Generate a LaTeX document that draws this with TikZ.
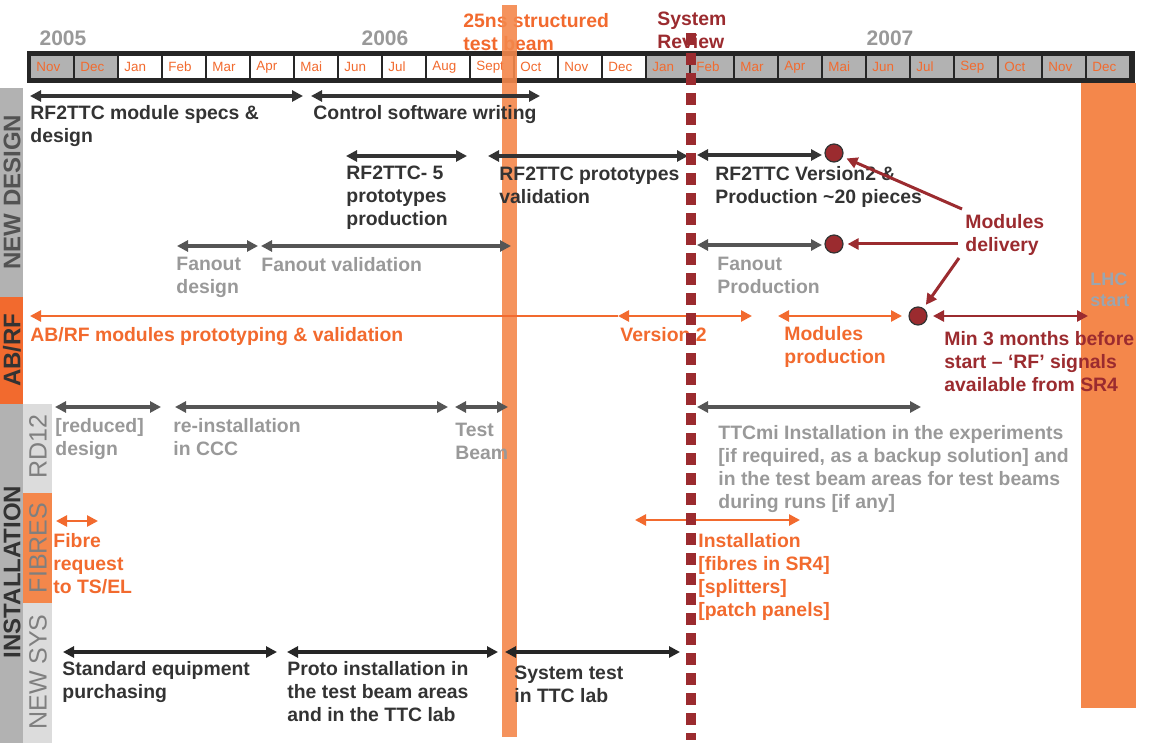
\documentclass[tikz,border=0pt]{standalone}
\usepackage{fontspec}
\setmainfont{Liberation Sans}
\usetikzlibrary{arrows.meta}

\definecolor{darktxt}{HTML}{333333}
\definecolor{greytxt}{HTML}{999999}
\definecolor{greyarr}{HTML}{555555}
\definecolor{sidetxt}{HTML}{7F7F7F}
\definecolor{orangetxt}{HTML}{F26A2E}
\definecolor{orangebar}{HTML}{F4874B}
\definecolor{darkred}{HTML}{9B2B2F}
\definecolor{boxgrey}{HTML}{B2B2B2}
\definecolor{boxlight}{HTML}{DCDCDC}
\definecolor{headblack}{HTML}{262626}
\definecolor{lhcgrey}{HTML}{9AA5B0}

\tikzset{
  lbl/.style={anchor=north west,inner sep=0pt,align=left,text=darktxt,
    font=\fontsize{9.7}{11.5}\selectfont\bfseries},
  greylbl/.style={lbl,text=greytxt},
  orangelbl/.style={lbl,text=orangetxt},
  redlbl/.style={lbl,text=darkred},
  span/.style={{Triangle[length=5.5pt,width=5.5pt]}-{Triangle[length=5.5pt,width=5.5pt]},
    line width=1.8pt,draw=darktxt},
  greyspan/.style={span,draw=greyarr},
  orangespan/.style={span,draw=orangetxt,line width=1.3pt},
  redspan/.style={span,draw=darkred,line width=1.3pt},
  milestone/.style={circle,fill=darkred,draw=darktxt,line width=0.6pt,
    minimum size=9pt,inner sep=0pt},
  deliv/.style={-{Triangle[length=5.5pt,width=5.5pt]},line width=1.5pt,draw=darkred,
    shorten >=2pt},
  month/.style={anchor=west,inner sep=0pt,text=orangetxt,font=\fontsize{6.7}{8}\selectfont},
  year/.style={text=greytxt,font=\fontsize{10.5}{12}\selectfont\bfseries},
  side/.style={rotate=90,inner sep=0pt,font=\fontsize{12}{14}\selectfont\bfseries},
  subside/.style={rotate=90,inner sep=0pt,text=sidetxt,font=\fontsize{12.5}{14}\selectfont},
}

\begin{document}
\begin{tikzpicture}[x=0.5pt,y=-0.5pt]
\useasboundingbox (0,0) rectangle (1151,743);

% left column
\fill[boxgrey] (0,88) rectangle (23,297);
\fill[orangetxt] (0,297) rectangle (23,404);
\fill[boxgrey] (0,404) rectangle (23,743);
\fill[boxlight] (23,404) rectangle (52,493);
\fill[orangebar] (23,493) rectangle (52,603);
\fill[boxlight] (23,603) rectangle (52,743);
\node[side,text=darktxt!85] (newdesign) at (12,192) {NEW DESIGN};
\node[side,text=darktxt] (abrf) at (12,350) {AB/RF};
\node[side,text=darktxt] (install) at (12,572) {INSTALLATION};
\node[subside] (rd12) at (38,447) {RD12};
\node[subside] (fibres) at (38,548) {FIBRES};
\node[subside] (newsys) at (38,672) {NEW SYS};

% time axis
\fill[headblack] (27,51) rectangle (1135,83);
\foreach \m/\c [count=\i from 0] in {Nov/boxgrey,Dec/boxgrey,Jan/white,Feb/white,Mar/white,
    Apr/white,Mai/white,Jun/white,Jul/white,Aug/white,Sept/white,Oct/white,Nov/white,Dec/white,
    Jan/boxgrey,Feb/boxgrey,Mar/boxgrey,Apr/boxgrey,Mai/boxgrey,Jun/boxgrey,Jul/boxgrey,
    Sep/boxgrey,Oct/boxgrey,Nov/boxgrey,Dec/boxgrey}{
  \fill[\c] ({31+44*\i},56) rectangle ({73+44*\i},78);
  \node[month] (m\i) at ({36+44*\i},67) {\m};
}
\node[year] (y2005) at (63,38) {2005};
\node[year] (y2006) at (385,38) {2006};
\node[year] (y2007) at (890,38) {2007};

% milestones
\node[orangelbl] (testbeam) at (463,13) {25ns structured\\test beam};
\node[redlbl] (review) at (657,12) {System\\Review};
\fill[orangebar,opacity=.9] (502,5) rectangle (517,737);
\fill[orangebar] (1081,83) rectangle (1136,708);
\node[lbl,text=lhcgrey,font=\fontsize{9}{10.5}\selectfont\bfseries] (lhc) at (1090,273) {LHC\\start};

% new design
\node[lbl] (specs) at (30,105) {RF2TTC module specs \&\\design};
\node[lbl] (ctrl) at (313,105) {Control software writing};
\node[lbl] (proto5) at (346,166) {RF2TTC- 5\\prototypes\\production};
\node[lbl] (protoval) at (499,167) {RF2TTC prototypes\\validation};
\node[lbl] (version2) at (715,166) {RF2TTC Version2 \&\\Production \textasciitilde20 pieces};
\node[greylbl] (fandes) at (176,257) {Fanout\\design};
\node[greylbl] (fanval) at (261,257) {Fanout validation};
\node[greylbl] (fanprod) at (717,257) {Fanout\\Production};
\draw[span] (30,96) -- (303,96);
\draw[span] (311,96) -- (540,96);
\draw[span] (346,156) -- (467,156);
\draw[span] (488,156) -- (688,156);
\draw[span] (697,155) -- (822,155);
\draw[greyspan] (177,246) -- (258,246);
\draw[greyspan] (261,246) -- (511,246);
\draw[greyspan] (697,245) -- (822,245);
\node[milestone] (dot1) at (834,153) {};
\node[milestone] (dot2) at (834,244) {};

% AB/RF
\node[orangelbl] (abrfval) at (30,327) {AB/RF modules prototyping \& validation};
\node[orangelbl] (abrfv2) at (620,327) {Version 2};
\node[orangelbl] (modprod) at (784,326) {Modules\\production};
\node[redlbl] (min3) at (944,331) {Min 3 months before\\start – ‘RF’ signals\\available from SR4};
\coordinate (abL) at (30,316);
\coordinate (v2L) at (618,316);
\coordinate (v2R) at (752,316);
\draw[orangespan,{Triangle[length=5.5pt,width=5.5pt]}-] (abL) -- (v2L);
\draw[orangespan] (v2L) -- (v2R);
\draw[orangespan] (778,316) -- (902,316);
\node[milestone] (dot3) at (918,316) {};
\draw[redspan] (933,316) -- (1088,316);

% modules delivery
\node[redlbl] (delivery) at (965,214) {Modules\\delivery};
\coordinate (d1) at (962,209);
\coordinate (d2) at (958,244);
\coordinate (d3) at (959,258);
\draw[deliv] (d1) -- (dot1);
\draw[deliv] (d2) -- (dot2);
\draw[deliv] (d3) -- (dot3);

% RD12
\node[greylbl] (reduced) at (55,418) {[reduced]\\design};
\node[greylbl] (reinst) at (173,418) {re-installation\\in CCC};
\node[greylbl] (rdbeam) at (455,423) {Test\\Beam};
\node[greylbl] (ttcmi) at (718,425) {TTCmi Installation in the experiments\\{}[if required, as a backup solution] and\\in the test beam areas for test beams\\during runs [if any]};
\draw[greyspan] (55,407) -- (161,407);
\draw[greyspan] (175,407) -- (448,407);
\draw[greyspan] (455,407) -- (508,407);
\draw[greyspan] (697,407) -- (921,407);

% fibres
\node[orangelbl] (fibreq) at (53,533) {Fibre\\request\\to TS/EL};
\node[orangelbl] (fibinst) at (698,533) {Installation\\{}[fibres in SR4]\\{}[splitters]\\{}[patch panels]};
\draw[orangespan] (56,521) -- (98,521);
\draw[orangespan] (635,520) -- (800,520);

% new sys
\node[lbl] (purch) at (62,661) {Standard equipment\\purchasing};
\node[lbl] (protoinst) at (287,661) {Proto installation in\\the test beam areas\\and in the TTC lab};
\node[lbl] (systest) at (514,666) {System test\\in TTC lab};
\draw[span,draw=headblack] (63,652) -- (277,652);
\draw[span,draw=headblack] (287,652) -- (498,652);
\draw[span,draw=headblack] (505,652) -- (680,652);

% system review line
\coordinate (revtop) at (691,33);
\coordinate (revbot) at (691,740);
\draw[darkred,line width=5pt,dash pattern=on 6pt off 4pt] (revtop) -- (revbot);
\end{tikzpicture}
\end{document}
